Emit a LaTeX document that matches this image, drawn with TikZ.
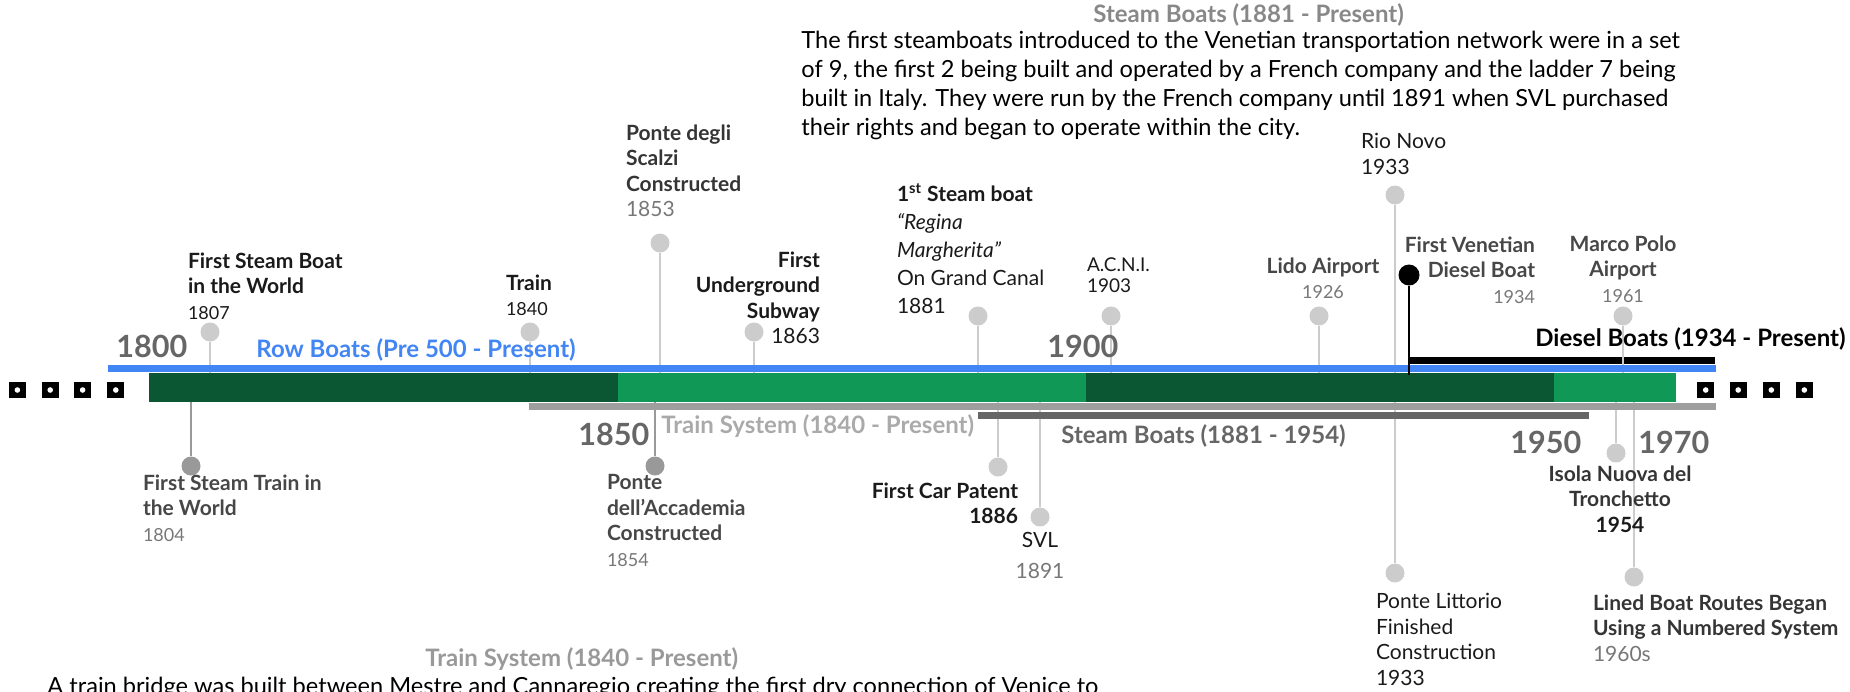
\documentclass[tikz,border=0pt]{standalone}
\usepackage{fontspec}
\setmainfont{Lato}
\definecolor{tlblue}{HTML}{4285F4}
\definecolor{tldgreen}{HTML}{0B5734}
\definecolor{tllgreen}{HTML}{0F9856}
\definecolor{tlbar}{HTML}{9E9E9E}
\definecolor{tlbardark}{HTML}{666666}
\definecolor{pinlight}{HTML}{CCCCCC}
\definecolor{pindark}{HTML}{999999}
\definecolor{yeargray}{HTML}{666666}
\definecolor{txtblack}{HTML}{1A1A1A}
\definecolor{txtgray}{HTML}{474747}
\definecolor{txtmid}{HTML}{353535}
\definecolor{dategray}{HTML}{777777}
\definecolor{trainlbl}{HTML}{AAAAAA}
\definecolor{steamtop}{HTML}{888888}
\definecolor{trainbot}{HTML}{999999}
\newcommand\evf{\fontsize{10.5}{12.75}\selectfont}
\newcommand\evdate[1]{{\fontsize{9}{12.75}\selectfont #1}}
\newcommand\evgray[1]{{\color{dategray}#1}}
\begin{document}
\begin{tikzpicture}[x=0.5pt,y=-0.5pt,
  evpin/.style={circle,fill=pinlight,minimum size=9.5pt,inner sep=0pt},
  evpindk/.style={evpin,fill=pindark},
  evpinblk/.style={circle,fill=black,minimum size=10.5pt,inner sep=0pt},
  evstem/.style={draw=pinlight,line width=1.1pt},
  evstemdk/.style={draw=pindark,line width=1.1pt},
  evstemblk/.style={draw=black,line width=1.2pt},
  lbl/.style={inner sep=0pt,outer sep=0pt,font=\evf,text=txtblack},
  lblL/.style={lbl,anchor=north west,align=left},
  lblR/.style={lbl,anchor=north east,align=right},
  lblC/.style={lbl,anchor=north,align=center},
  yearlbl/.style={inner sep=0pt,anchor=base west,font=\fontsize{15.3}{18}\selectfont\bfseries,text=yeargray},
  period/.style={inner sep=0pt,anchor=base west,font=\fontsize{12}{14}\selectfont\bfseries},
  para/.style={inner sep=0pt,anchor=north west,align=left,font=\fontsize{11.8}{14.6}\selectfont,text=black},
  sqmark/.style={fill=black},
]
\useasboundingbox (0,0) rectangle (1850,691);
\clip (0,0) rectangle (1850,691);

% diesel period bar (under the stems)
\fill[black] (1408,357) rectangle (1715,363.5);

% pins above the bar
\node[evpin] (p1807) at (210,332) {};
\node[evpin] (p1840) at (530,332) {};
\node[evpin] (p1853) at (660,243) {};
\node[evpin] (p1863) at (754,332) {};
\node[evpin] (p1881) at (978,316) {};
\node[evpin] (p1903) at (1111,316) {};
\node[evpin] (p1926) at (1319,316) {};
\node[evpin] (p1933a) at (1395,195) {};
\node[evpin] (p1961) at (1623,316) {};
% pins below the bar
\node[evpindk] (p1804) at (191,466) {};
\node[evpindk] (p1854) at (655,466) {};
\node[evpin] (p1886) at (998,467) {};
\node[evpin] (p1891) at (1040,517) {};
\node[evpin] (p1933b) at (1395,573) {};
\node[evpin] (p1954) at (1616,453) {};
\node[evpin] (p1960) at (1634,577) {};

% bar anchor points
\foreach \n/\x in {1807/210,1840/530,1853/660,1863/754,1881/978,1903/1111,1926/1319,1933a/1395,1961/1623}
  \coordinate (b\n) at (\x,373);
\foreach \n/\x in {1804/191,1854/655,1886/998,1891/1040,1933b/1395,1954/1616,1960/1634}
  \coordinate (b\n) at (\x,402);

% stems
\foreach \n in {1807,1840,1853,1863,1881,1903,1926,1933a,1961,1886,1891,1933b,1954,1960}
  \draw[evstem] (p\n) -- (b\n);
\draw[evstemdk] (p1804) -- (b1804);
\draw[evstemdk] (p1854) -- (b1854);

% main bars
\fill[tlblue] (108,365) rectangle (1716,372);
\fill[tldgreen] (149,373) rectangle (618,402);
\fill[tllgreen] (618,373) rectangle (1086,402);
\fill[tldgreen] (1086,373) rectangle (1554,402);
\fill[tllgreen] (1554,373) rectangle (1676,402);
\fill[tlbar] (529,403.3) rectangle (1716,410);
\fill[tlbardark] (978,411.7) rectangle (1589,419);

% diesel boat marker
\node[evpinblk] (p1934) at (1409,275) {};
\coordinate (b1934) at (1409,375);
\draw[evstemblk] (p1934) -- (b1934);

% end squares
\foreach \x in {17.4,50.2,82.6,115.8,1705.7,1738.2,1771.3,1804.3}{
  \fill[sqmark] (\x-8.5,382) rectangle (\x+8.5,398);
  \fill[white] (\x,390) circle (2.8);
}

% year labels
\node[yearlbl] (y1800) at (116,357) {1800};
\node[yearlbl] (y1850) at (578,445) {1850};
\node[yearlbl] (y1900) at (1047,357) {1900};
\node[yearlbl] (y1950) at (1510,453) {1950};
\node[yearlbl] (y1970) at (1638,453) {1970};

% period labels
\node[period,text=tlblue] (rowb) at (256,357) {Row Boats (Pre 500 - Present)};
\node[period,text=black] (dieselb) at (1535,346) {Diesel Boats (1934 - Present)};
\node[period,text=trainlbl] (trainb) at (661,433) {Train System (1840 - Present)};
\node[period,text=tlbardark] (steamb) at (1061,443) {Steam Boats (1881 - 1954)};
\node[period,text=steamtop] (steamtop) at (1093,22) {Steam Boats (1881 - Present)};
\node[period,text=trainbot] (trainbot) at (425,666) {Train System (1840 - Present)};

% paragraphs
\node[para] (steampara) at (801,30.5) {The first steamboats introduced to the Venetian transportation network were in a set\\of 9, the first 2 being built and operated by a French company and the ladder 7 being\\built in Italy. They were run by the French company until 1891 when SVL purchased\\their rights and began to operate within the city.};
\node[para,anchor=base west] (trainpara) at (47,694.5) {A train bridge was built between Mestre and Cannaregio creating the first dry connection of Venice to};

% event labels above
\node[lblL] (t1807) at (188,252.5) {\textbf{First Steam Boat}\\\textbf{in the World}\\\evdate{1807}};
\node[lblL] (t1840) at (506,274.5) {\textbf{Train}\\\evdate{1840}};
\node[lblL,text=txtmid] (t1853) at (626,124.5) {\textbf{Ponte degli}\\\textbf{Scalzi}\\\textbf{Constructed}\\\evgray{1853}};
\node[lblR] (t1863) at (820,251.5) {\textbf{First}\\\textbf{Underground}\\\textbf{Subway}\\1863};
\node[lblL,font=\fontsize{10.5}{14}\selectfont] (t1881) at (897,184) {\textbf{1\textsuperscript{st} Steam boat}\\\textit{“Regina}\\\textit{Margherita”}\\On Grand Canal\\1881};
\node[lblL,font=\fontsize{9.5}{10.5}\selectfont] (t1903) at (1087,258) {A.C.N.I.\\1903};
\node[lblC,text=txtgray] (t1926) at (1323,257.5) {\textbf{Lido Airport}\\\evdate{\evgray{1926}}};
\node[lblL] (t1933a) at (1361,133.5) {Rio Novo\\1933};
\node[lblR,text=txtgray] (t1934) at (1535,236.5) {\textbf{First Venetian}\\\textbf{Diesel Boat}\\\evdate{\evgray{1934}}};
\node[lblC,text=txtgray] (t1961) at (1623,235.5) {\textbf{Marco Polo}\\\textbf{Airport}\\\evdate{\evgray{1961}}};

% event labels below
\node[lblL,text=txtgray] (t1804) at (143,474.5) {\textbf{First Steam Train in}\\\textbf{the World}\\\evdate{\evgray{1804}}};
\node[lblL,text=txtgray] (t1854) at (607,474.5) {\textbf{Ponte}\\\textbf{dell’Accademia}\\\textbf{Constructed}\\\evdate{\evgray{1854}}};
\node[lblR] (t1886) at (1018,482.5) {\textbf{First Car Patent}\\\textbf{1886}};
\node[lblC] (t1891) at (1040,532.5) {SVL\\[2.5pt]\evgray{1891}};
\node[lblL] (t1933b) at (1376,593.5) {Ponte Littorio\\Finished\\Construction\\1933};
\node[lblC] (t1954) at (1620,465.5) {\textbf{\color{txtmid}Isola Nuova del}\\\textbf{\color{txtmid}Tronchetto}\\\textbf{1954}};
\node[lblL,text=txtmid] (t1960) at (1593,594.5) {\textbf{Lined Boat Routes Began}\\\textbf{Using a Numbered System}\\\evgray{1960s}};
\end{tikzpicture}
\end{document}
